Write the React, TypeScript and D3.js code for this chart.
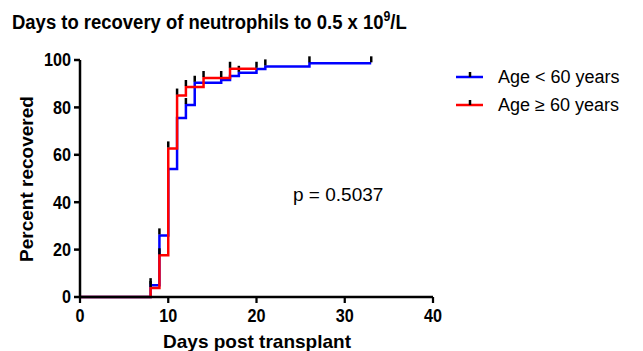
import * as d3 from "d3";

// Kaplan-Meier style step data (percent recovered)
const daysLt60 = [0, 8, 9, 10, 11, 12, 13, 16, 17, 18, 20, 21, 26];
const pctLt60 = [0, 5, 26, 54, 75.5, 81, 90.4, 91.6, 93.2, 94.6, 96.2, 97.3, 98.6];
const endLt60 = 33;
const censorLt60 = [8, 9, 12, 13, 18, 21, 26, 33];

const daysGe60 = [0, 8, 9, 10, 11, 12, 14, 17];
const pctGe60 = [0, 3.8, 17.6, 62.7, 85, 88.6, 92.4, 96.3];
const endGe60 = 20;
const censorGe60 = [8, 9, 10, 11, 12, 14, 16, 17, 20];

const xTicks = [0, 10, 20, 30, 40];
const yTicks = [0, 20, 40, 60, 80, 100];

const seriesNames = ["Age < 60 years", "Age \u2265 60 years"];
const colors = ["#0000ff", "#ff0000"];

const W = 643;
const H = 351;

const x = d3.scaleLinear().domain([0, 40]).range([80, 433]);
const y = d3.scaleLinear().domain([0, 100]).range([297, 60]);

type Pt = [number, number];

const buildSteps = (days: number[], pct: number[], end: number): Pt[] => {
  const pts: Pt[] = days.map((d, i) => [d, pct[i]]);
  pts.push([end, pct[pct.length - 1]]);
  return pts;
};

const levelAt = (days: number[], pct: number[], t: number) => {
  let v = 0;
  days.forEach((d, i) => {
    if (d <= t) v = pct[i];
  });
  return v;
};

const stepLine = d3
  .line<Pt>()
  .x((d) => x(d[0]))
  .y((d) => y(d[1]))
  .curve(d3.curveStepAfter);

const series = [
  { days: daysLt60, pct: pctLt60, end: endLt60, censor: censorLt60 },
  { days: daysGe60, pct: pctGe60, end: endGe60, censor: censorGe60 },
];

const font = "'Liberation Sans', Arial, sans-serif";

export default function App() {
  return (
    <svg
      width={W}
      height={H}
      style={{ position: "absolute", left: 0, top: 0, background: "#fff" }}
      fontFamily={font}
    >
      {/* title, slightly condensed like the original */}
      <text
        transform="translate(12,29) scale(0.88,1)"
        fontSize={21}
        fontWeight="bold"
        fill="#000"
      >
        Days to recovery of neutrophils to 0.5 x 10
        <tspan dy={-8} fontSize={14}>9</tspan>
        <tspan dy={8}>/L</tspan>
      </text>

      {/* curves */}
      {series.map((s, i) => (
        <g key={i}>
          <path
            d={stepLine(buildSteps(s.days, s.pct, s.end)) || ""}
            fill="none"
            stroke={colors[i]}
            strokeWidth={2.5}
          />
          {s.censor.map((c) => {
            const ly = y(levelAt(s.days, s.pct, c));
            return (
              <line
                key={c}
                x1={x(c)}
                x2={x(c)}
                y1={ly - 1}
                y2={ly - 7}
                stroke="#000"
                strokeWidth={2.5}
              />
            );
          })}
        </g>
      ))}

      {/* axes */}
      <line x1={x(0)} x2={x(40)} y1={y(0)} y2={y(0)} stroke="#000" strokeWidth={2.5} />
      <line x1={x(0)} x2={x(0)} y1={y(0)} y2={y(100)} stroke="#000" strokeWidth={2.5} />
      {xTicks.map((t) => (
        <g key={t} transform={`translate(${x(t)},322) scale(0.9,1)`}>
          <line x1={0} x2={0} y1={y(0) - 322} y2={y(0) + 6 - 322} stroke="#000" strokeWidth={2.5} />
          <text x={0} y={0} textAnchor="middle" fontSize={18} fontWeight="bold">
            {t}
          </text>
        </g>
      ))}
      {yTicks.map((t) => (
        <g key={t}>
          <line x1={x(0) - 6} x2={x(0)} y1={y(t)} y2={y(t)} stroke="#000" strokeWidth={2.5} />
          <text
            transform={`translate(71,${y(t)}) scale(0.9,1)`}
            dy="0.36em"
            textAnchor="end"
            fontSize={18}
            fontWeight="bold"
          >
            {t}
          </text>
        </g>
      ))}

      {/* axis titles */}
      <text x={257} y={348} textAnchor="middle" fontSize={19} fontWeight="bold">
        Days post transplant
      </text>
      <text
        transform={`translate(33,${179}) rotate(-90)`}
        textAnchor="middle"
        fontSize={19}
        fontWeight="bold"
      >
        Percent recovered
      </text>

      {/* p value */}
      <text x={293} y={201} fontSize={19}>
        p = 0.5037
      </text>

      {/* legend */}
      {seriesNames.map((name, i) => {
        const ly = 77 + i * 28;
        return (
          <g key={name}>
            <line x1={456} x2={483} y1={ly} y2={ly} stroke={colors[i]} strokeWidth={2.5} />
            <line x1={470} x2={470} y1={ly} y2={ly - 5} stroke="#000" strokeWidth={2.5} />
            <text x={498} y={ly} dy="0.35em" fontSize={18}>
              {name}
            </text>
          </g>
        );
      })}
    </svg>
  );
}
